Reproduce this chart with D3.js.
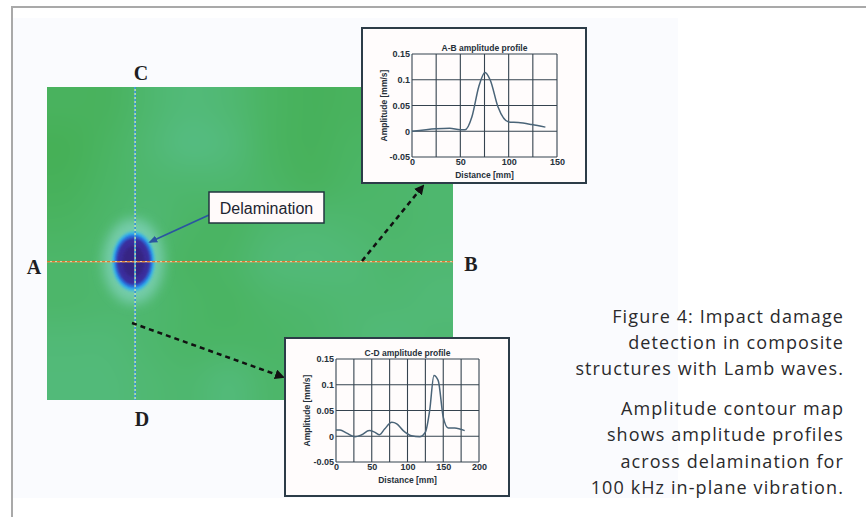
<!DOCTYPE html>
<html>
<head>
<meta charset="utf-8">
<script src="https://cdn.jsdelivr.net/npm/d3@7/dist/d3.min.js"></script>
<style>
  html, body { margin: 0; padding: 0; background: #fff; }
  svg { display: block; }
</style>
</head>
<body>
<svg id="fig" width="866" height="517"></svg>
<script>
// ---------- data ----------
// A-B profile (distance mm, amplitude mm/s)
const abDistance  = [0, 25, 39, 50, 55, 62, 69, 75.5, 81, 89, 100, 110, 124, 138];
const abAmplitude = [0, 0.005, 0.006, 0.003, 0.003, 0.028, 0.086, 0.114, 0.099, 0.047, 0.018, 0.017, 0.013, 0.008];

// C-D profile
const cdDistance  = [0, 5.6, 15, 26.5, 36, 46.5, 54, 61, 68, 78, 85, 94, 105.6, 117, 125, 131, 137, 143, 150, 157, 166, 180];
const cdAmplitude = [0.012, 0.012, 0.006, -0.001, 0.003, 0.011, 0.008, 0.003, 0.014, 0.027, 0.024, 0.011, 0.001, -0.001, 0.008, 0.05, 0.118, 0.108, 0.037, 0.016, 0.016, 0.011];

const yTicks = [-0.05, 0, 0.05, 0.1, 0.15];
const yTickLabels = ["-0.05", "0", "0.05", "0.1", "0.15"];
const abXTicks = [0, 50, 100, 150];
const cdXTicks = [0, 50, 100, 150, 200];

// contour map background, relative amplitude level 0..1 (10 cols x 8 rows)
const mapGrid = [
  [0.20, 0.20, 0.40, 0.55, 0.45, 0.25, 0.15, 0.20, 0.20, 0.30],
  [0.10, 0.25, 0.45, 0.65, 0.55, 0.25, 0.15, 0.25, 0.30, 0.35],
  [0.15, 0.30, 0.40, 0.40, 0.40, 0.30, 0.20, 0.30, 0.35, 0.40],
  [0.25, 0.35, 0.45, 0.30, 0.25, 0.40, 0.45, 0.40, 0.35, 0.40],
  [0.35, 0.40, 0.40, 0.25, 0.30, 0.50, 0.55, 0.50, 0.40, 0.45],
  [0.35, 0.40, 0.40, 0.30, 0.25, 0.35, 0.40, 0.45, 0.45, 0.50],
  [0.50, 0.50, 0.40, 0.30, 0.30, 0.30, 0.35, 0.45, 0.55, 0.45],
  [0.55, 0.55, 0.45, 0.40, 0.55, 0.35, 0.35, 0.40, 0.45, 0.45]
];

// delamination spot and scan lines, in map percent units
const delamination = { cx: 21.3, cy: 55.7, rx: 5.0, ry: 9.1 };
const scanLineCD = 21.7;
const scanLineAB = 55.8;

const captionLines = ["Figure 4: Impact damage", "detection in composite", "structures with Lamb waves."];
const noteLines = ["Amplitude contour map", "shows amplitude profiles", "across delamination for", "100 kHz in-plane vibration."];

// ---------- layout ----------
const svg = d3.select("#fig");
const mapBox = { x0: 47, x1: 453, y0: 87, y1: 400 };
const mx = d3.scaleLinear().domain([0, 100]).range([mapBox.x0, mapBox.x1]);
const my = d3.scaleLinear().domain([0, 100]).range([mapBox.y0, mapBox.y1]);

// page frame and light panel
svg.append("rect").attr("x", 13).attr("y", 18).attr("width", 665).attr("height", 480).attr("fill", "#fafbfe");
svg.append("line").attr("x1", 12).attr("x2", 866).attr("y1", 7).attr("y2", 7).attr("stroke", "#a9a9a9").attr("stroke-width", 2);
svg.append("line").attr("x1", 12).attr("x2", 12).attr("y1", 6).attr("y2", 517).attr("stroke", "#a9a9a9").attr("stroke-width", 2);

// ---------- contour map ----------
const levelColor = d3.scaleLinear().domain([0, 1]).range(["#43ae4f", "#5fc49c"]).interpolate(d3.interpolateRgb);
const rows = mapGrid.length, cols = mapGrid[0].length;
const small = document.createElement("canvas");
small.width = cols; small.height = rows;
const sctx = small.getContext("2d");
mapGrid.forEach((row, j) => row.forEach((v, i) => {
  sctx.fillStyle = levelColor(v);
  sctx.fillRect(i, j, 1, 1);
}));
const big = document.createElement("canvas");
big.width = mapBox.x1 - mapBox.x0; big.height = mapBox.y1 - mapBox.y0;
const bctx = big.getContext("2d");
bctx.imageSmoothingEnabled = true;
bctx.imageSmoothingQuality = "high";
bctx.drawImage(small, 0, 0, big.width, big.height);

const defs = svg.append("defs");
defs.append("clipPath").attr("id", "mapClip").append("rect")
  .attr("x", mapBox.x0).attr("y", mapBox.y0)
  .attr("width", mapBox.x1 - mapBox.x0).attr("height", mapBox.y1 - mapBox.y0);
[["blurBig", 6], ["blurMid", 1.6], ["blurSmall", 1.2]].forEach(([id, s]) => {
  defs.append("filter").attr("id", id).attr("x", "-50%").attr("y", "-50%").attr("width", "200%").attr("height", "200%")
    .append("feGaussianBlur").attr("stdDeviation", s);
});

const mapG = svg.append("g").attr("clip-path", "url(#mapClip)");
mapG.append("image")
  .attr("x", mapBox.x0).attr("y", mapBox.y0)
  .attr("width", big.width).attr("height", big.height)
  .attr("preserveAspectRatio", "none")
  .attr("href", big.toDataURL());

// delamination spot
const spot = [
  { k: 1.5, color: "#86d6c4", f: "blurBig", o: 0.7 },
  { k: 1.04, color: "#30b0ec", f: "blurMid", o: 1 },
  { k: 0.93, color: "#2c6ad8", f: "blurSmall", o: 1 },
  { k: 0.82, color: "#3a2e9c", f: "blurSmall", o: 1 },
  { k: 0.55, color: "#35207e", f: "blurMid", o: 0.8 }
];
mapG.selectAll("ellipse.spot").data(spot).join("ellipse")
  .attr("class", "spot")
  .attr("cx", mx(delamination.cx)).attr("cy", my(delamination.cy))
  .attr("rx", d => (mx(delamination.rx) - mx(0)) * d.k)
  .attr("ry", d => (my(delamination.ry) - my(0)) * d.k)
  .attr("fill", d => d.color).attr("opacity", d => d.o)
  .attr("filter", d => `url(#${d.f})`);

// scan lines
svg.append("line")
  .attr("x1", mx(0)).attr("x2", mx(100)).attr("y1", my(scanLineAB)).attr("y2", my(scanLineAB))
  .attr("stroke", "#e9c99a").attr("stroke-width", 1.3);
svg.append("line")
  .attr("x1", mx(0)).attr("x2", mx(100)).attr("y1", my(scanLineAB)).attr("y2", my(scanLineAB))
  .attr("stroke", "#e27a30").attr("stroke-width", 1.3).attr("stroke-dasharray", "3,2");
svg.append("line")
  .attr("x1", mx(scanLineCD)).attr("x2", mx(scanLineCD)).attr("y1", my(0)).attr("y2", my(100))
  .attr("stroke", "#b8dcb8").attr("stroke-width", 1.6);
svg.append("line")
  .attr("x1", mx(scanLineCD)).attr("x2", mx(scanLineCD)).attr("y1", my(0)).attr("y2", my(100))
  .attr("stroke", "#2a92da").attr("stroke-width", 1.6).attr("stroke-dasharray", "2,2");

// A B C D labels
const serif = "'Liberation Serif', 'DejaVu Serif', serif";
const letters = [
  { t: "A", x: 34, y: 274 },
  { t: "B", x: 471, y: 271 },
  { t: "C", x: 141, y: 80 },
  { t: "D", x: 142, y: 426 }
];
svg.selectAll("text.letter").data(letters).join("text")
  .attr("class", "letter")
  .attr("x", d => d.x).attr("y", d => d.y)
  .attr("text-anchor", "middle")
  .attr("font-family", serif).attr("font-size", 20).attr("font-weight", "bold")
  .attr("fill", "#1e1e22").text(d => d.t);

// arrow markers
defs.append("marker").attr("id", "headBlack").attr("viewBox", "0 0 10 10")
  .attr("refX", 8).attr("refY", 5).attr("markerWidth", 4).attr("markerHeight", 4).attr("orient", "auto")
  .append("path").attr("d", "M0,0 L10,5 L0,10 z").attr("fill", "#111");
defs.append("marker").attr("id", "headBlue").attr("viewBox", "0 0 10 10")
  .attr("refX", 8).attr("refY", 5).attr("markerWidth", 5).attr("markerHeight", 5).attr("orient", "auto")
  .append("path").attr("d", "M0,1 L10,5 L0,9 z").attr("fill", "#2a55a0");

// dashed pointer arrows
svg.append("line").attr("x1", 362).attr("y1", 261).attr("x2", 423).attr("y2", 186)
  .attr("stroke", "#111").attr("stroke-width", 2.5).attr("stroke-dasharray", "5,4")
  .attr("marker-end", "url(#headBlack)");
svg.append("line").attr("x1", 132).attr("y1", 323).attr("x2", 283).attr("y2", 377)
  .attr("stroke", "#111").attr("stroke-width", 2.5).attr("stroke-dasharray", "5,4")
  .attr("marker-end", "url(#headBlack)");

// delamination callout
svg.append("line").attr("x1", 209).attr("y1", 215).attr("x2", 150).attr("y2", 242)
  .attr("stroke", "#2a55a0").attr("stroke-width", 1.8).attr("marker-end", "url(#headBlue)");
svg.append("rect").attr("x", 209).attr("y", 192).attr("width", 115).attr("height", 31)
  .attr("fill", "#fffafa").attr("stroke", "#22343f").attr("stroke-width", 1.5);
svg.append("text").attr("x", 266.5).attr("y", 213.5)
  .attr("text-anchor", "middle").attr("font-family", "'Liberation Sans', Arial, sans-serif")
  .attr("font-size", 16).attr("fill", "#1c2430").text("Delamination");

// ---------- inset profile charts ----------
const sans = "'Liberation Sans', Arial, sans-serif";
function inset(cfg) {
  const g = svg.append("g");
  g.append("rect").attr("x", cfg.box[0]).attr("y", cfg.box[1])
    .attr("width", cfg.box[2] - cfg.box[0]).attr("height", cfg.box[3] - cfg.box[1])
    .attr("fill", "#fffcfc").attr("stroke", "#2c3c48").attr("stroke-width", 2);

  const x = d3.scaleLinear().domain(cfg.xDomain).range(cfg.xRange);
  const y = d3.scaleLinear().domain([-0.05, 0.15]).range(cfg.yRange);

  const xGrid = d3.range(cfg.xDomain[0], cfg.xDomain[1] + 1, 25);
  g.selectAll("line.vg").data(xGrid).join("line").attr("class", "vg")
    .attr("x1", d => x(d)).attr("x2", d => x(d)).attr("y1", y(0.15)).attr("y2", y(-0.05))
    .attr("stroke", "#35434f").attr("stroke-width", 1.1);
  g.selectAll("line.hg").data(yTicks).join("line").attr("class", "hg")
    .attr("x1", x(cfg.xDomain[0])).attr("x2", x(cfg.xDomain[1])).attr("y1", d => y(d)).attr("y2", d => y(d))
    .attr("stroke", "#35434f").attr("stroke-width", 1.1);

  // tick labels through axes
  const ax = g.append("g").attr("transform", `translate(0,${y(-0.05)})`)
    .call(d3.axisBottom(x).tickValues(cfg.xTicks).tickSize(0).tickPadding(2).tickFormat(d3.format("d")));
  const ay = g.append("g").attr("transform", `translate(${x(cfg.xDomain[0])},0)`)
    .call(d3.axisLeft(y).tickValues(yTicks).tickSize(0).tickPadding(2).tickFormat((d, i) => yTickLabels[i]));
  [ax, ay].forEach(a => {
    a.select(".domain").remove();
    a.selectAll("text").attr("font-family", sans).attr("font-size", 9).attr("font-weight", "bold").attr("fill", "#26303a");
  });

  g.append("path")
    .datum(cfg.dist.map((d, i) => [d, cfg.amp[i]]))
    .attr("d", d3.line().x(d => x(d[0])).y(d => y(d[1])).curve(d3.curveMonotoneX))
    .attr("fill", "none").attr("stroke", "#4a6478").attr("stroke-width", 1.5);

  const cx = (cfg.xRange[0] + cfg.xRange[1]) / 2;
  g.append("text").attr("x", cx).attr("y", y(0.15) - 3).attr("text-anchor", "middle")
    .attr("font-family", sans).attr("font-size", 8.5).attr("font-weight", "bold").attr("fill", "#26303a")
    .text(cfg.title);
  g.append("text").attr("x", cx).attr("y", y(-0.05) + 21).attr("text-anchor", "middle")
    .attr("font-family", sans).attr("font-size", 8.5).attr("font-weight", "bold").attr("fill", "#26303a")
    .text("Distance [mm]");
  const cy = (cfg.yRange[0] + cfg.yRange[1]) / 2;
  g.append("text").attr("transform", `translate(${cfg.yLabelX},${cy}) rotate(-90)`)
    .attr("text-anchor", "middle").attr("font-family", sans).attr("font-size", 8.5).attr("font-weight", "bold")
    .attr("fill", "#26303a").text("Amplitude [mm/s]");
}

inset({
  box: [362, 28, 586, 183], xDomain: [0, 150], xRange: [412, 557], yRange: [157, 54],
  xTicks: abXTicks, dist: abDistance, amp: abAmplitude, title: "A-B amplitude profile", yLabelX: 387
});
inset({
  box: [285, 338, 509, 496], xDomain: [0, 200], xRange: [336, 479], yRange: [462, 359],
  xTicks: cdXTicks, dist: cdDistance, amp: cdAmplitude, title: "C-D amplitude profile", yLabelX: 310
});

// ---------- caption ----------
const capFont = "'Open Sans', 'Noto Sans', sans-serif";
svg.selectAll("text.cap").data(captionLines).join("text").attr("class", "cap")
  .attr("x", 844).attr("y", (d, i) => 323 + i * 26)
  .attr("text-anchor", "end").attr("font-family", capFont).attr("font-size", 18)
  .attr("letter-spacing", 1.1).attr("fill", "#2a2a2c")
  .text(d => d);
svg.selectAll("text.note").data(noteLines).join("text").attr("class", "note")
  .attr("x", 844).attr("y", (d, i) => 415 + i * 26.3)
  .attr("text-anchor", "end").attr("font-family", capFont).attr("font-size", 18)
  .attr("letter-spacing", 1.1).attr("fill", "#2a2a2c")
  .text(d => d);
</script>
</body>
</html>
